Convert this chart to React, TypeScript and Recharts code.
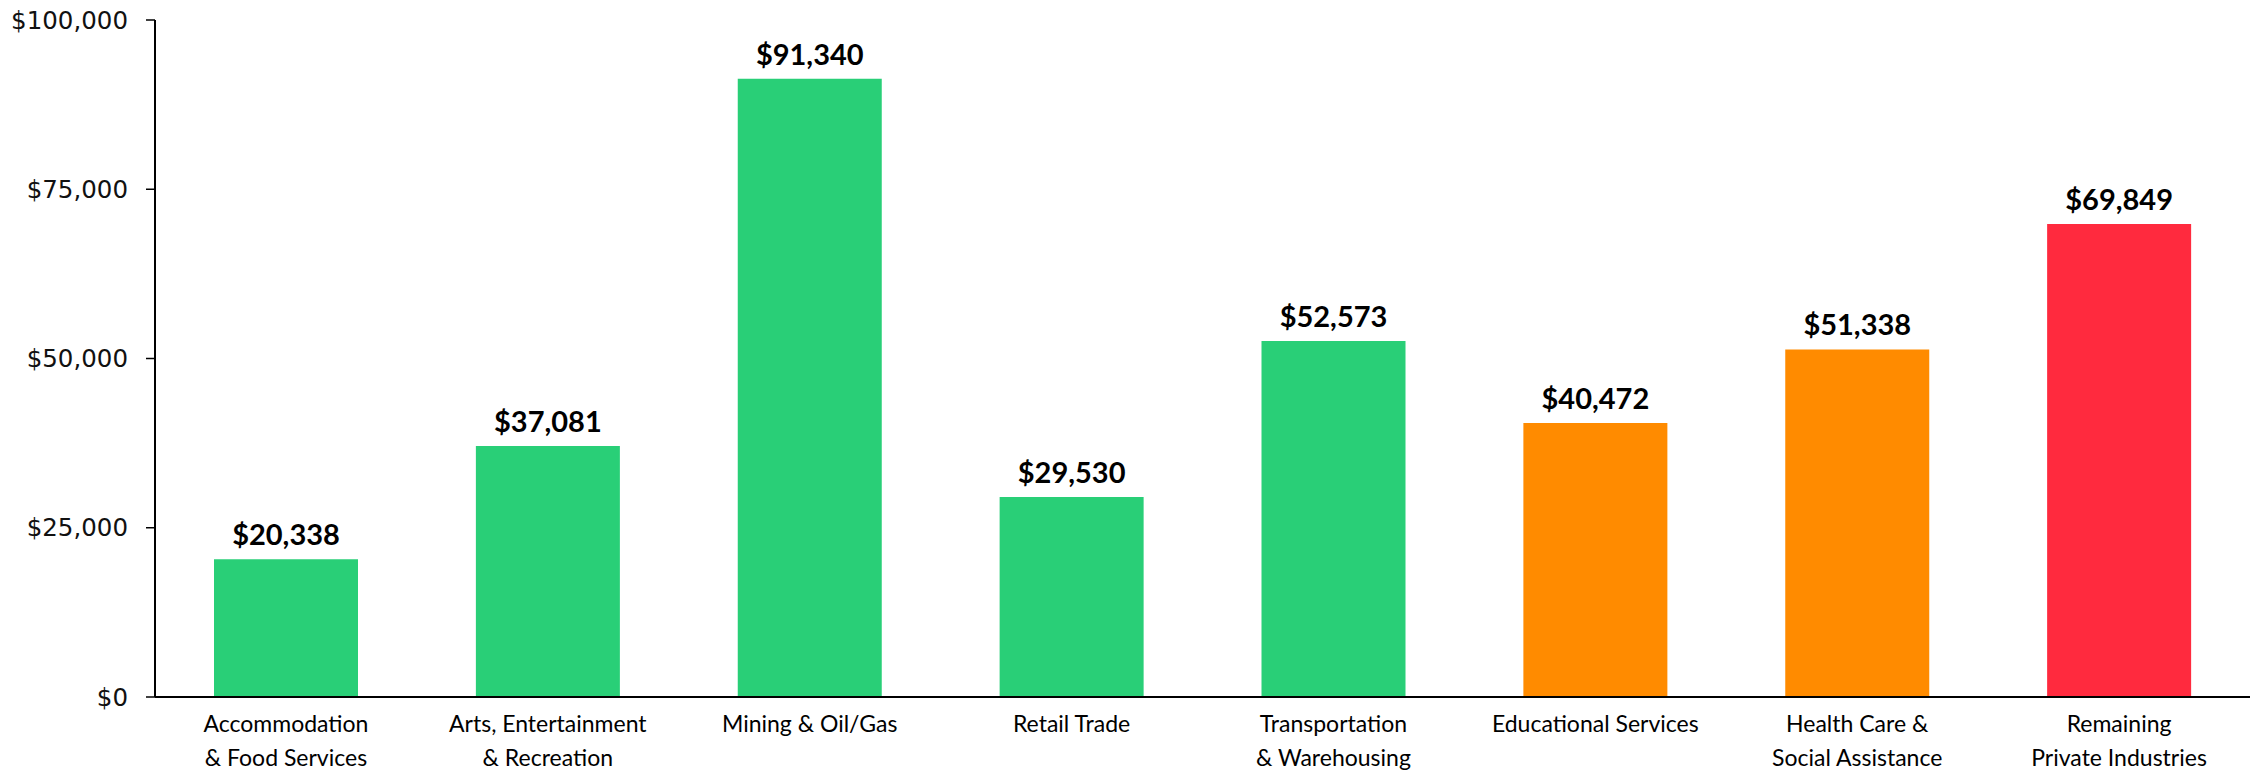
import React from "react";
import { BarChart, Bar, XAxis, YAxis, Cell, LabelList } from "recharts";

const CATEGORIES = [
  "Accommodation\n& Food Services",
  "Arts, Entertainment\n& Recreation",
  "Mining & Oil/Gas",
  "Retail Trade",
  "Transportation\n& Warehousing",
  "Educational Services",
  "Health Care &\nSocial Assistance",
  "Remaining\nPrivate Industries",
];
const VALUES = [20338, 37081, 91340, 29530, 52573, 40472, 51338, 69849];
const GROUPS = ["g", "g", "g", "g", "g", "o", "o", "r"];
const Y_TICKS = [0, 25000, 50000, 75000, 100000];

const GROUP_COLORS: Record<string, string> = { g: "#29CF77", o: "#FF8B00", r: "#FF2A3E" };

const data = CATEGORIES.map((c, i) => ({ name: c, value: VALUES[i], group: GROUPS[i] }));

const money = (v: number) => "$" + v.toLocaleString("en-US");

const XTick = (props: any) => {
  const { x, y, payload } = props;
  const lines = String(payload.value).split("\n");
  return (
    <text x={x} y={y} textAnchor="middle" fontFamily="Lato" fontSize={23} fill="#000">
      {lines.map((l, i) => (
        <tspan key={i} x={x} dy={i === 0 ? 27 : 34}>
          {l}
        </tspan>
      ))}
    </text>
  );
};

export default function App() {
  return (
    <div style={{ position: "absolute", left: 0, top: 0, background: "#fff" }}>
      <BarChart
        width={2257}
        height={771}
        data={data}
        margin={{ top: 20, right: 7, bottom: 4, left: 0 }}
      >
        <YAxis
          width={155}
          domain={[0, 100000]}
          ticks={Y_TICKS}
          tickFormatter={money}
          axisLine={{ stroke: "#000", strokeWidth: 2 }}
          tickLine={{ stroke: "#000", strokeWidth: 1.5 }}
          tickSize={9}
          tickMargin={18}
          tick={{ fontFamily: "DejaVu Sans", fontSize: 24.5, fill: "#111" }}
          interval={0}
        />
        <XAxis
          dataKey="name"
          height={70}
          interval={0}
          axisLine={{ stroke: "#000", strokeWidth: 2 }}
          tickLine={false}
          tick={<XTick />}
        />
        <Bar dataKey="value" barSize={144} isAnimationActive={false}>
          {data.map((d, i) => (
            <Cell key={i} fill={GROUP_COLORS[d.group]} />
          ))}
          <LabelList
            dataKey="value"
            position="top"
            offset={14}
            formatter={(v: any) => money(Number(v))}
            style={{ fontFamily: "Lato", fontWeight: 700, fontSize: 29, fill: "#000" }}
          />
        </Bar>
      </BarChart>
    </div>
  );
}
